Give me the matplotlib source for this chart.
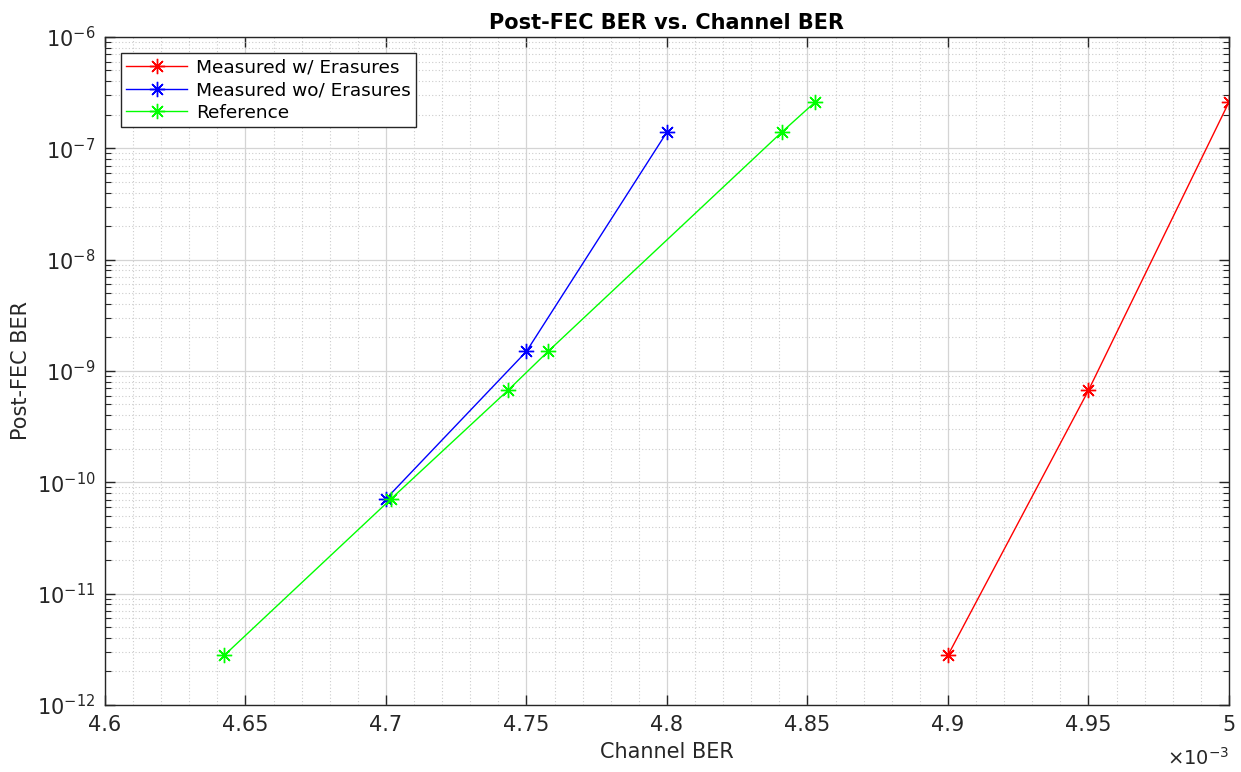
import numpy as np
import matplotlib
matplotlib.use("Agg")
import matplotlib.pyplot as plt
from matplotlib.ticker import FuncFormatter, MultipleLocator, LogLocator, NullFormatter

# channel BER / post-FEC BER pairs
x_erasures = [4.900e-3, 4.950e-3, 5.000e-3]
y_erasures = [2.8e-12, 6.7e-10, 2.6e-7]

x_no_erasures = [4.700e-3, 4.750e-3, 4.800e-3]
y_no_erasures = [7.1e-11, 1.5e-9, 1.4e-7]

x_reference = [4.6425e-3, 4.7018e-3, 4.7434e-3, 4.7577e-3, 4.8409e-3, 4.8527e-3]
y_reference = [2.8e-12, 7.1e-11, 6.7e-10, 1.5e-9, 1.4e-7, 2.6e-7]

plt.rcParams['font.family'] = ['DejaVu Sans']
plt.rcParams['axes.unicode_minus'] = False

fig = plt.figure(figsize=(12.41, 7.72), dpi=100)
ax = fig.add_axes([0.0846, 0.0868, 0.9057, 0.8653])

star = (8, 2, 0)  # 8-arm asterisk
ax.semilogy(x_erasures, y_erasures, color=(1, 0, 0), lw=1.0, marker=star, ms=11, mew=1.0,
            label='Measured w/ Erasures')
ax.semilogy(x_no_erasures, y_no_erasures, color=(0, 0, 1), lw=1.0, marker=star, ms=11, mew=1.0,
            label='Measured wo/ Erasures')
ax.semilogy(x_reference, y_reference, color=(0, 1, 0), lw=1.0, marker=star, ms=11, mew=1.0,
            label='Reference')

ax.set_xlim(4.6e-3, 5.0e-3)
ax.set_ylim(1e-12, 1e-6)

ax.xaxis.set_major_locator(MultipleLocator(0.05e-3))
ax.xaxis.set_minor_locator(MultipleLocator(0.01e-3))
ax.xaxis.set_major_formatter(FuncFormatter(lambda v, p: ('%g' % round(v * 1e3, 4))))
ax.yaxis.set_major_locator(LogLocator(base=10, numticks=20))
ax.yaxis.set_minor_locator(LogLocator(base=10, subs=np.arange(2, 10), numticks=20))
ax.yaxis.set_minor_formatter(NullFormatter())

ax.grid(True, which='major', color='#d4d4d4', lw=0.9, ls='-')
ax.grid(True, which='minor', color='#cccccc', lw=0.8, ls=(0, (1, 2)))
ax.set_axisbelow(True)

ax.tick_params(which='both', direction='in', top=True, right=True, colors='#262626',
               labelsize=15)
ax.tick_params(which='major', length=7, width=1.0)
ax.tick_params(axis='x', which='major', pad=7)
ax.tick_params(axis='y', which='major', pad=7)
ax.tick_params(axis='y', which='minor', length=4, width=0.8)
ax.tick_params(axis='x', which='minor', length=0)
for s in ax.spines.values():
    s.set_color('#262626')
    s.set_linewidth(1.0)

ax.set_title('Post-FEC BER vs. Channel BER', fontsize=15, fontweight='bold', pad=6)
ax.set_xlabel('Channel BER', fontsize=15, color='#262626', labelpad=5)
ax.set_ylabel('Post-FEC BER', fontsize=15, color='#262626', labelpad=4)
ax.text(1.0, -0.079, r'$\times$10$^{-3}$', transform=ax.transAxes, ha='right', va='center',
        fontsize=14, color='#262626')

leg = ax.legend(loc='upper left', bbox_to_anchor=(0.0142, 0.976), fontsize=13.3,
                fancybox=False, edgecolor='#262626', framealpha=1, borderpad=0.3,
                labelspacing=0.25, handlelength=3.3, handletextpad=0.45, borderaxespad=0)
leg.get_frame().set_linewidth(1.0)

fig.savefig('out.png', dpi=100)
